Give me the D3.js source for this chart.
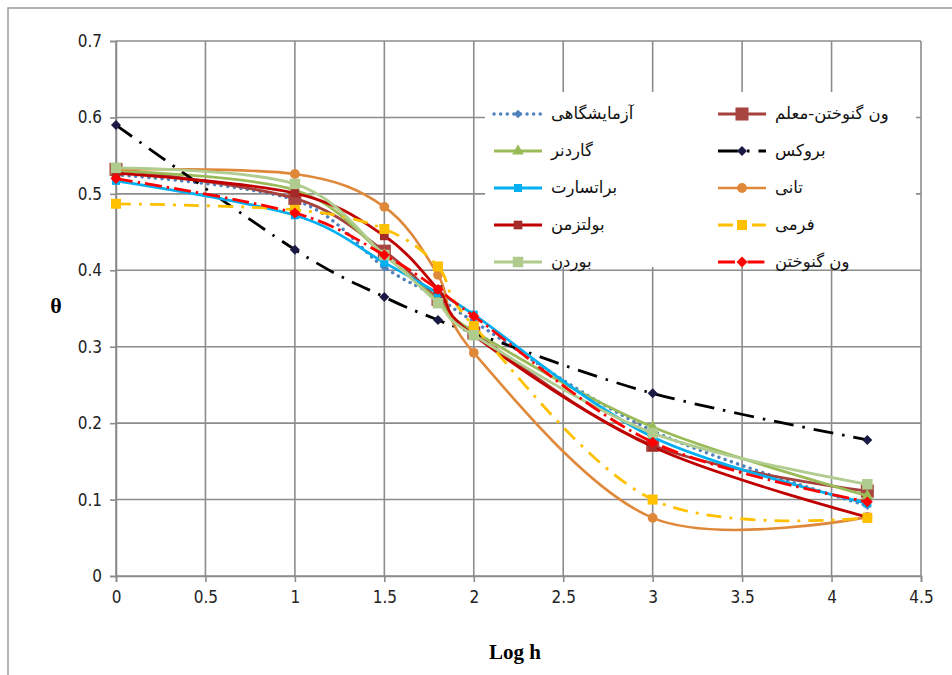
<!DOCTYPE html>
<html>
<head>
<meta charset="utf-8">
<script src="https://cdn.jsdelivr.net/npm/d3@7"></script>
<style>
  body { margin: 0; background: #fff; }
  svg { display: block; }
  .tick text { font-family: "Liberation Sans Narrow", "DejaVu Sans Condensed", "Roboto Condensed", sans-serif; font-size: 17px; fill: #222; }
  .legend text { font-family: "DejaVu Sans", sans-serif; font-size: 16.5px; fill: #111; }
</style>
</head>
<body>
<div id="main_plot"></div>
<script>
// x values (Log h)
logH = [0, 1, 1.5, 1.8, 2, 3, 4.2];

// theta values per series
lab       = [0.525, 0.492, 0.404, 0.365, 0.333, 0.19, 0.092];
moalem    = [0.532, 0.494, 0.425, 0.362, 0.318, 0.171, 0.111];
gardner   = [0.530, 0.505, 0.420, 0.360, 0.320, 0.195, 0.105];
brooks    = [0.590, 0.427, 0.365, 0.335, 0.318, 0.239, 0.178];
brutsaert = [0.517, 0.472, 0.410, 0.370, 0.342, 0.182, 0.095];
tani      = [0.532, 0.526, 0.483, 0.394, 0.292, 0.076, 0.077];
boltzmann = [0.527, 0.501, 0.445, 0.375, 0.315, 0.169, 0.077];
fermi     = [0.487, 0.479, 0.454, 0.405, 0.327, 0.100, 0.076];
bordon    = [0.534, 0.513, 0.420, 0.357, 0.315, 0.187, 0.120];
vanG      = [0.520, 0.475, 0.420, 0.375, 0.340, 0.175, 0.097];

xTicks = [0, 0.5, 1, 1.5, 2, 2.5, 3, 3.5, 4, 4.5];
yTicks = [0, 0.1, 0.2, 0.3, 0.4, 0.5, 0.6, 0.7];

// legend columns (left, right)
legendLeft  = ["آزمایشگاهی", "گاردنر", "براتسارت", "بولتزمن", "بوردن"];
legendRight = ["ون گنوختن-معلم", "بروکس", "تانی", "فرمی", "ون گنوختن"];

// drawing order + style (rot: rotate a square into a diamond)
series = [
  { name: legendLeft[0],  values: lab,       color: "#4F81BD", mcolor: "#4F81BD", dash: "0.1 6.5", cap: "round", w: 3.4, sym: d3.symbolSquare, rot: 45, size: 36 },
  { name: legendRight[0], values: moalem,    color: "#A5403C", mcolor: "#A84540", dash: null, w: 2.8, sym: d3.symbolSquare, size: 170 },
  { name: legendLeft[1],  values: gardner,   color: "#9BBB59", mcolor: "#9BBB59", dash: null, w: 2.8, sym: d3.symbolTriangle, size: 60 },
  { name: legendRight[1], values: brooks,    color: "#000000", mcolor: "#1B1A45", dash: "20 9 2.5 9", w: 2.8, sym: d3.symbolSquare, rot: 45, size: 50 },
  { name: legendLeft[2],  values: brutsaert, color: "#00B0F0", mcolor: "#00B0F0", dash: null, w: 2.8, sym: d3.symbolSquare, size: 64 },
  { name: legendRight[2], values: tani,      color: "#E0883A", mcolor: "#E0883A", dash: null, w: 2.6, sym: d3.symbolCircle, size: 75 },
  { name: legendLeft[3],  values: boltzmann, color: "#C00000", mcolor: "#A52A2A", dash: null, w: 2.8, sym: d3.symbolSquare, size: 75 },
  { name: legendRight[3], values: fermi,     color: "#FFC000", mcolor: "#FFC000", dash: "15 8 3 8", w: 2.8, sym: d3.symbolSquare, size: 100 },
  { name: legendLeft[4],  values: bordon,    color: "#B0CC8E", mcolor: "#AFCB8E", dash: null, w: 2.8, sym: d3.symbolSquare, size: 110 },
  { name: legendRight[4], values: vanG,      color: "#FF0000", mcolor: "#FF0000", dash: "17 5 2.5 5", w: 2.8, sym: d3.symbolSquare, rot: 45, size: 60 }
];

width = 952;
height = 675;

let svg = d3.select("#main_plot").append("svg")
  .attr("width", width)
  .attr("height", height);

// outer frame
svg.append("path")
  .attr("d", "M8,675 L8,8 L952,8")
  .attr("fill", "none")
  .attr("stroke", "#9a9a9a")
  .attr("stroke-width", 1.5);

let x = d3.scaleLinear().domain([0, 4.5]).range([116, 921]);
let y = d3.scaleLinear().domain([0, 0.7]).range([576, 41]);

// grid
let grid = svg.append("g").attr("class", "grid");
grid.selectAll(".vg").data(xTicks).enter().append("line")
  .attr("x1", d => x(d)).attr("x2", d => x(d))
  .attr("y1", y(0)).attr("y2", y(0.7))
  .attr("stroke", "#8c8c8c").attr("stroke-width", 1.6);
grid.selectAll(".hg").data(yTicks).enter().append("line")
  .attr("x1", x(0)).attr("x2", x(4.5))
  .attr("y1", d => y(d)).attr("y2", d => y(d))
  .attr("stroke", "#8c8c8c").attr("stroke-width", 1.6);

// legend background (covers grid)
let lgX = 485, lgY = 92;
svg.append("rect")
  .attr("x", lgX).attr("y", lgY)
  .attr("width", 431).attr("height", 175)
  .attr("fill", "#fff");

// axes
let xAxis = d3.axisBottom(x).tickValues(xTicks).tickFormat(d3.format("")).tickSize(6).tickPadding(9);
let yAxis = d3.axisLeft(y).tickValues(yTicks).tickFormat(d3.format("")).tickSize(6).tickPadding(8);

let gx = svg.append("g").attr("transform", "translate(0," + y(0) + ")").call(xAxis);
let gy = svg.append("g").attr("transform", "translate(" + x(0) + ",0)").call(yAxis);
[gx, gy].forEach(g => {
  g.selectAll("path, line").attr("stroke", "#8c8c8c").attr("stroke-width", 1.6);
});

svg.append("text")
  .attr("x", 515).attr("y", 659)
  .attr("text-anchor", "middle")
  .style("font-family", "'Liberation Serif', 'Times New Roman', serif")
  .style("font-weight", "bold")
  .style("font-size", "21px")
  .text("Log h");

svg.append("text")
  .attr("x", 56).attr("y", 313)
  .attr("text-anchor", "middle")
  .style("font-family", "'Liberation Serif', 'Times New Roman', serif")
  .style("font-weight", "bold")
  .style("font-size", "22px")
  .text("θ");

// lines
let line = d3.line()
  .curve(d3.curveCardinal.tension(0))
  .x(d => x(d[0]))
  .y(d => y(d[1]));

function markerTransform(s, px, py) {
  return "translate(" + px + "," + py + ")" + (s.rot ? " rotate(" + s.rot + ")" : "");
}

let plot = svg.append("g");
series.forEach(s => {
  let pts = logH.map((h, i) => [h, s.values[i]]);
  let g = plot.append("g").attr("class", "metric");
  g.append("path")
    .attr("d", line(pts))
    .attr("fill", "none")
    .attr("stroke", s.color)
    .attr("stroke-width", s.w)
    .attr("stroke-dasharray", s.dash)
    .attr("stroke-linecap", s.cap || "butt");
  g.selectAll(".dot").data(pts).enter().append("path")
    .attr("d", d3.symbol().type(s.sym).size(s.size))
    .attr("transform", d => markerTransform(s, x(d[0]), y(d[1])))
    .attr("fill", s.mcolor);
});

// legend
let legend = svg.append("g").attr("class", "legend");
function legendRow(s, x0, yy) {
  let row = legend.append("g");
  row.append("line")
    .attr("x1", x0).attr("x2", x0 + 48)
    .attr("y1", yy).attr("y2", yy)
    .attr("stroke", s.color)
    .attr("stroke-width", s.w)
    .attr("stroke-dasharray", s.dash)
    .attr("stroke-linecap", s.cap || "butt");
  row.append("path")
    .attr("d", d3.symbol().type(s.sym).size(s.size))
    .attr("transform", markerTransform(s, x0 + 24, yy))
    .attr("fill", s.mcolor);
  row.append("text")
    .attr("x", x0 + 57).attr("y", yy + 5)
    .text(s.name);
}
legendLeft.forEach((n, i) => legendRow(series.find(s => s.name === n), 494, 114 + i * 37));
legendRight.forEach((n, i) => legendRow(series.find(s => s.name === n), 718, 114 + i * 37));
</script>
</body>
</html>
